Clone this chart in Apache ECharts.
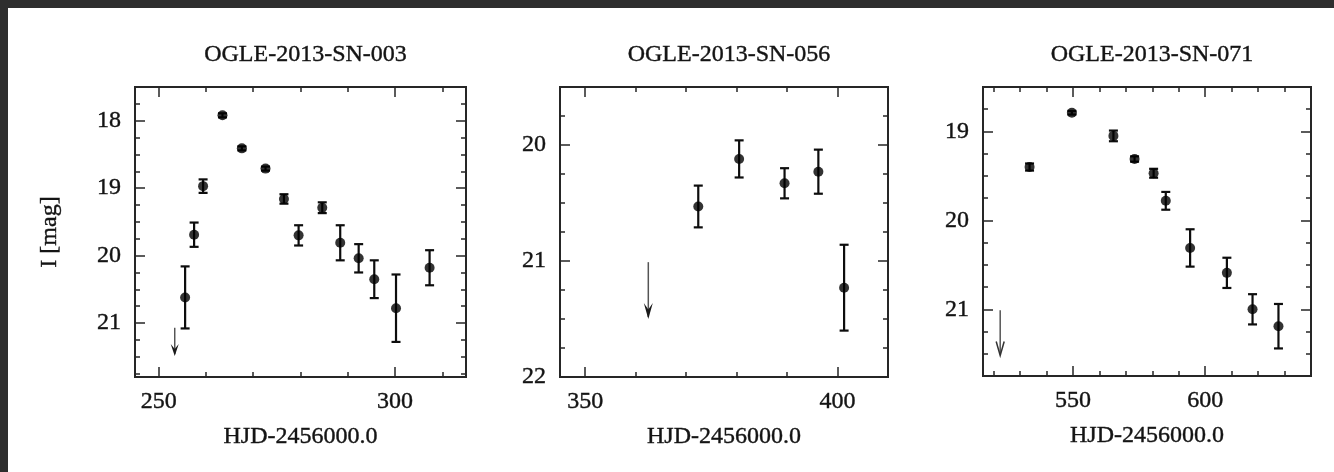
<!DOCTYPE html>
<html>
<head>
<meta charset="utf-8">
<title>OGLE-2013 supernova light curves</title>
<script src="https://cdn.jsdelivr.net/npm/echarts@6/dist/echarts.min.js"></script>
<style>
  html, body { margin: 0; padding: 0; background: #ffffff; }
  #chart { width: 1334px; height: 472px; }
</style>
</head>
<body>
<div id="chart"></div>
<script>
// ---- OGLE-2013-SN-003 : I-band photometry (HJD-2456000, mag, error) ----
const sn003Days = [255.6, 257.5, 259.4, 263.5, 267.6, 272.6, 276.5, 279.6, 284.6, 288.4, 292.3, 295.6, 300.2, 307.3];
const sn003Mags = [20.62, 19.69, 18.97, 17.92, 18.41, 18.71, 19.16, 19.70, 19.29, 19.81, 20.04, 20.35, 20.78, 20.18];
const sn003Errs = [0.46, 0.18, 0.10, 0.03, 0.03, 0.03, 0.07, 0.15, 0.08, 0.26, 0.21, 0.28, 0.50, 0.26];
// upper limit: [day, limiting mag, arrow tip mag]
const sn003Limit = [253.4, 21.07, 21.49];

// ---- OGLE-2013-SN-056 ----
const sn056Days = [372.4, 380.5, 389.5, 396.2, 401.3];
const sn056Mags = [20.53, 20.12, 20.33, 20.23, 21.23];
const sn056Errs = [0.18, 0.16, 0.13, 0.19, 0.37];
const sn056Limit = [362.5, 21.01, 21.50];

// ---- OGLE-2013-SN-071 ----
const sn071Days = [533.6, 549.6, 565.3, 573.3, 580.5, 585.1, 594.3, 608.2, 617.9, 627.7];
const sn071Mags = [19.40, 18.79, 19.05, 19.31, 19.47, 19.78, 20.31, 20.59, 21.00, 21.19];
const sn071Errs = [0.04, 0.02, 0.06, 0.03, 0.05, 0.10, 0.21, 0.17, 0.17, 0.25];
const sn071Limit = [522.5, 21.01, 21.52];

// ---- axis ranges and labelled ticks ----
const sn003XRange = [245, 315];
const sn003YRange = [17.5, 21.8];
const sn003XTicks = [250, 300];
const sn003YTicks = [18, 19, 20, 21];

const sn056XRange = [345, 410];
const sn056YRange = [19.5, 22];
const sn056XTicks = [350, 400];
const sn056YTicks = [20, 21, 22];

const sn071XRange = [516, 640];
const sn071YRange = [18.5, 21.75];
const sn071XTicks = [550, 600];
const sn071YTicks = [19, 20, 21];

const titles = ['OGLE-2013-SN-003', 'OGLE-2013-SN-056', 'OGLE-2013-SN-071'];
const xName = 'HJD-2456000.0';
const yName = 'I [mag]';

// ---- layout of the three frames ----
const boxes = [
  { left: 135, top: 87, width: 331, height: 290 },
  { left: 560, top: 87, width: 328, height: 290 },
  { left: 983, top: 87, width: 328, height: 289 }
];
// arrow head drawing for each upper limit
const headStyles = [
  { kind: 'filled', halfWidth: 4, length: 12 },
  { kind: 'filled', halfWidth: 4.5, length: 16 },
  { kind: 'open', halfWidth: 4, length: 14 }
];

const panels = [
  { days: sn003Days, mags: sn003Mags, errs: sn003Errs, limit: sn003Limit,
    xRange: sn003XRange, yRange: sn003YRange, xTicks: sn003XTicks, yTicks: sn003YTicks },
  { days: sn056Days, mags: sn056Mags, errs: sn056Errs, limit: sn056Limit,
    xRange: sn056XRange, yRange: sn056YRange, xTicks: sn056XTicks, yTicks: sn056YTicks },
  { days: sn071Days, mags: sn071Mags, errs: sn071Errs, limit: sn071Limit,
    xRange: sn071XRange, yRange: sn071YRange, xTicks: sn071XTicks, yTicks: sn071YTicks }
];

const FONT = 'Liberation Serif';
const INK = '#141414';
const FRAME = '#262626';
// shared text look: Times-like serif with a slightly heavier stroke
const TEXT = { fontFamily: FONT, fontSize: 24, color: INK, textBorderColor: INK, textBorderWidth: 0.4 };

// minor tick positions between the range limits, skipping labelled ones
function minorTicks(range, step, majors) {
  const out = [];
  const start = Math.ceil(range[0] / step - 1e-9) * step;
  for (let v = start; v <= range[1] + 1e-9; v += step) {
    const r = Math.round(v * 1000) / 1000;
    if (r <= range[0] + 1e-9 || r >= range[1] - 1e-9) continue;
    if (majors.some(m => Math.abs(m - r) < 1e-6)) continue;
    out.push(r);
  }
  return out;
}

function makeAxis(kind, gi, range, position, ticks, length, withLabels, extra) {
  const ax = {
    type: 'value', gridIndex: gi, min: range[0], max: range[1], position: position,
    axisLine: { show: false, onZero: false },
    axisTick: { show: true, inside: true, length: length, customValues: ticks,
                lineStyle: { color: FRAME, width: 1.5 } },
    axisLabel: withLabels
      ? Object.assign({ show: true, customValues: ticks, margin: kind === 'x' ? 13 : 14 }, TEXT)
      : { show: false, customValues: ticks },
    splitLine: { show: false },
    minorTick: { show: false },
    silent: true
  };
  if (kind === 'y') ax.inverse = true;
  return Object.assign(ax, extra || {});
}

const grid = [], xAxis = [], yAxis = [], series = [], title = [];

function renderErrorBar(params, api) {
  const x = api.value(0), m = api.value(1), e = api.value(2);
  const a = api.coord([x, m - e]);
  const b = api.coord([x, m + e]);
  const half = 4.5;
  const style = { stroke: '#0d0d0d', lineWidth: 2.2 };
  return {
    type: 'group',
    children: [
      { type: 'line', shape: { x1: a[0], y1: a[1], x2: b[0], y2: b[1] }, style: style },
      { type: 'line', shape: { x1: a[0] - half, y1: a[1], x2: a[0] + half, y2: a[1] }, style: style },
      { type: 'line', shape: { x1: b[0] - half, y1: b[1], x2: b[0] + half, y2: b[1] }, style: style }
    ]
  };
}

function makeLimitRenderer(head) {
  return function (params, api) {
    const p0 = api.coord([api.value(0), api.value(1)]);
    const p1 = api.coord([api.value(0), api.value(2)]);
    const x = p1[0], y = p1[1], w = head.halfWidth, h = head.length;
    const children = [
      { type: 'line', shape: { x1: p0[0], y1: p0[1], x2: x, y2: y - 2 },
        style: { stroke: '#555555', lineWidth: 1.5 } }
    ];
    if (head.kind === 'filled') {
      children.push({ type: 'polygon',
        shape: { points: [[x - w, y - h], [x, y - h * 0.6], [x + w, y - h], [x, y]] },
        style: { fill: '#1a1a1a' } });
    } else {
      children.push({ type: 'polyline',
        shape: { points: [[x - w, y - h], [x, y], [x + w, y - h]] },
        style: { stroke: '#333333', lineWidth: 1.5, fill: null } });
    }
    return { type: 'group', children: children };
  };
}

panels.forEach(function (p, i) {
  const box = boxes[i];
  grid.push({ left: box.left, top: box.top, width: box.width, height: box.height,
              show: true, borderColor: FRAME, borderWidth: 2, backgroundColor: 'transparent',
              containLabel: false });

  const xMinor = minorTicks(p.xRange, 10, p.xTicks);
  const yMinor = minorTicks(p.yRange, 0.25, p.yTicks);

  // bottom (labelled), bottom minor, top, top minor
  xAxis.push(makeAxis('x', i, p.xRange, 'bottom', p.xTicks, 10, true, {
    name: xName, nameLocation: 'middle', nameGap: 48, nameTextStyle: TEXT
  }));
  xAxis.push(makeAxis('x', i, p.xRange, 'bottom', xMinor, 5, false));
  xAxis.push(makeAxis('x', i, p.xRange, 'top', p.xTicks, 10, false));
  xAxis.push(makeAxis('x', i, p.xRange, 'top', xMinor, 5, false));

  // left (labelled), left minor, right, right minor
  const yExtra = i === 0 ? {
    name: yName, nameLocation: 'middle', nameGap: 73, nameTextStyle: TEXT
  } : {};
  yAxis.push(makeAxis('y', i, p.yRange, 'left', p.yTicks, 10, true, yExtra));
  yAxis.push(makeAxis('y', i, p.yRange, 'left', yMinor, 5, false));
  yAxis.push(makeAxis('y', i, p.yRange, 'right', p.yTicks, 10, false));
  yAxis.push(makeAxis('y', i, p.yRange, 'right', yMinor, 5, false));

  const ax = 4 * i;
  const points = p.days.map(function (d, k) { return [d, p.mags[k], p.errs[k]]; });

  series.push({
    type: 'custom', name: titles[i] + ' errors', coordinateSystem: 'cartesian2d',
    xAxisIndex: ax, yAxisIndex: ax, renderItem: renderErrorBar,
    encode: { x: 0, y: 1 }, data: points, z: 2, silent: true
  });
  series.push({
    type: 'scatter', name: titles[i], xAxisIndex: ax, yAxisIndex: ax,
    data: points.map(function (q) { return [q[0], q[1]]; }),
    symbol: 'circle', symbolSize: 10, itemStyle: { color: '#000000' }, z: 3, silent: true
  });
  series.push({
    type: 'custom', name: titles[i] + ' limit', coordinateSystem: 'cartesian2d',
    xAxisIndex: ax, yAxisIndex: ax, renderItem: makeLimitRenderer(headStyles[i]),
    encode: { x: 0, y: [1, 2] }, data: [p.limit], z: 2, silent: true
  });

  title.push({
    text: titles[i], left: box.left + box.width / 2, top: 38, textAlign: 'center',
    textStyle: Object.assign({ fontWeight: 'normal' }, TEXT)
  });
});

const chart = echarts.init(document.getElementById('chart'), null, { renderer: 'canvas' });
chart.setOption({
  animation: false,
  backgroundColor: '#ffffff',
  title: title,
  grid: grid,
  xAxis: xAxis,
  yAxis: yAxis,
  series: series,
  graphic: [
    { type: 'rect', shape: { x: 0, y: 0, width: 1334, height: 8 }, style: { fill: '#2e2e2e' }, silent: true },
    { type: 'rect', shape: { x: 0, y: 0, width: 8, height: 472 }, style: { fill: '#2e2e2e' }, silent: true }
  ]
});
</script>
</body>
</html>
